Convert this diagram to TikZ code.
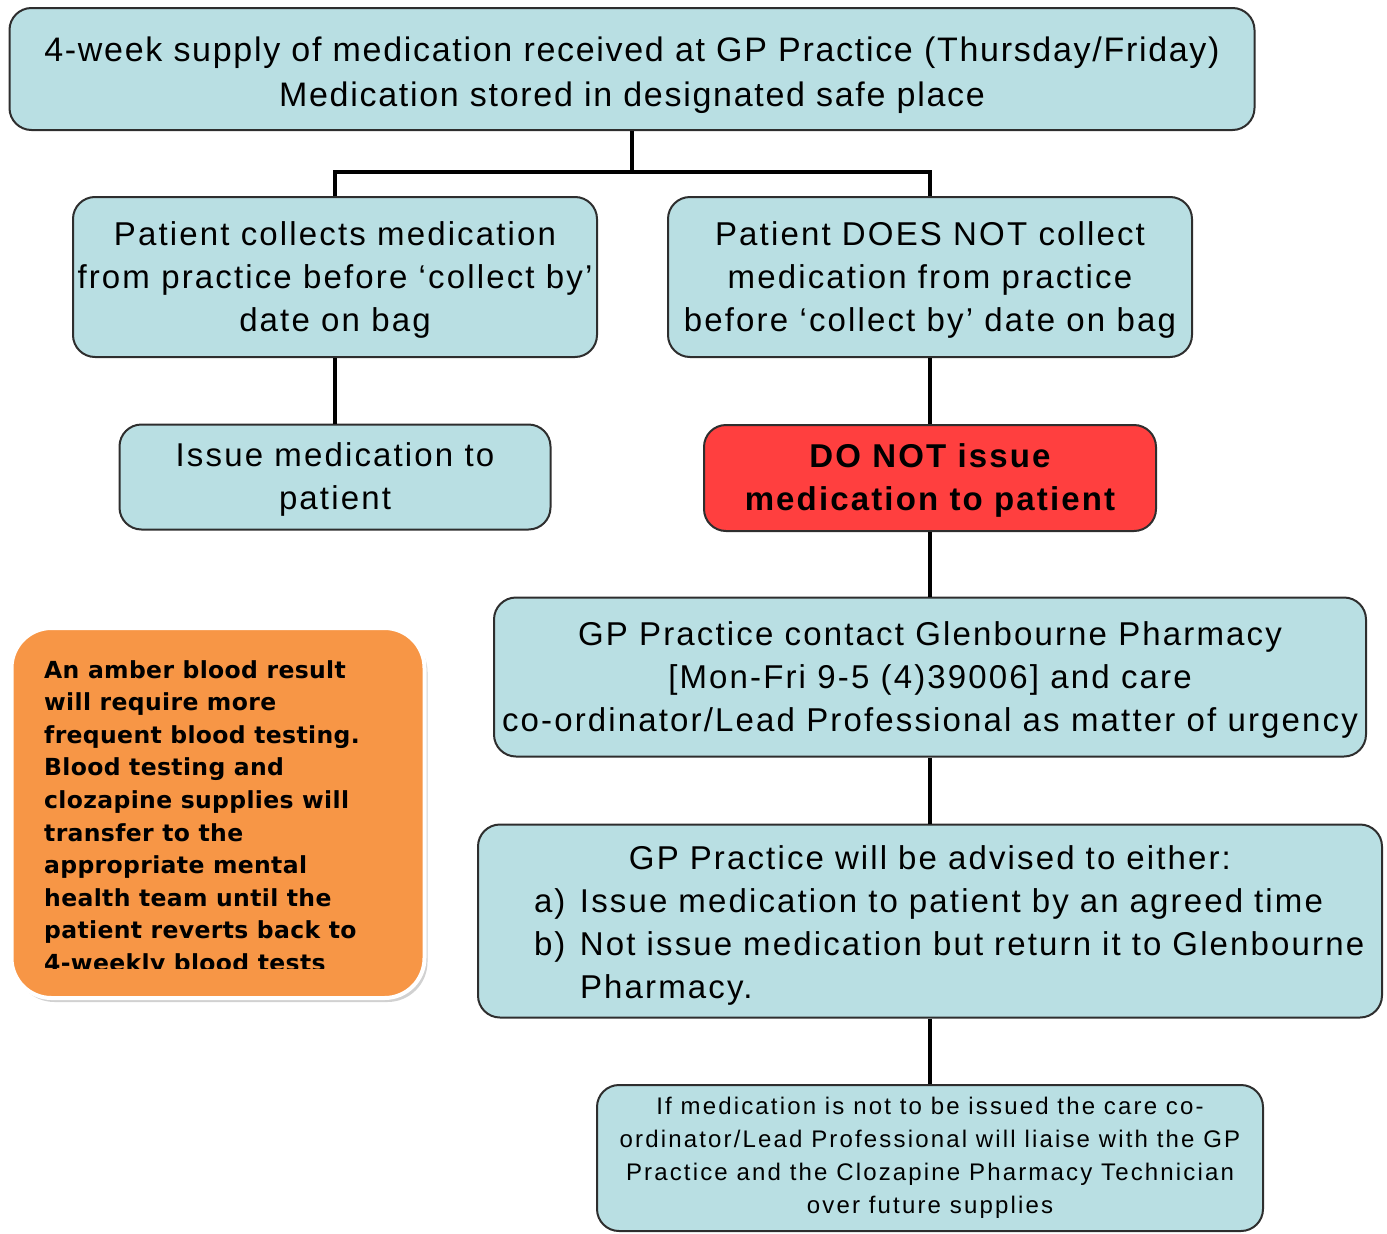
\documentclass[tikz,border=0pt]{standalone}
\usepackage{fontspec}
\setmainfont{Liberation Sans}
\newfontfamily\topfont[LetterSpace=5]{Liberation Sans}
\newfontfamily\boxfont[LetterSpace=6.5]{Liberation Sans}
\newfontfamily\smallfont[LetterSpace=9]{Liberation Sans}
\newfontfamily\notefont[LetterSpace=1.5]{DejaVu Sans}
\usepackage{xcolor}
\usetikzlibrary{positioning}

\definecolor{boxblue}{HTML}{B9DFE3}
\definecolor{stopred}{HTML}{FF3F3F}
\definecolor{amber}{HTML}{F79646}
\definecolor{edgegray}{HTML}{2E2E2E}

\newcommand{\bigtext}{\topfont\fontsize{34}{45}\selectfont}
\newcommand{\midtext}{\boxfont\fontsize{33}{43}\selectfont}
\newcommand{\smalltext}{\smallfont\fontsize{24}{33}\selectfont}
\newcommand{\lift}{\rule{0pt}{0.9em}}

\tikzset{
  flowbox/.style={draw=edgegray, line width=2pt, fill=boxblue, rounded corners=22pt, align=center, inner sep=0pt},
  link/.style={draw=black, line width=4pt}
}

\begin{document}
\begin{tikzpicture}[x=1pt, y=-1pt]
  \useasboundingbox (0,0) rectangle (1387,1234);
  \node[flowbox, minimum width=1245pt, minimum height=122pt, font=\bigtext] (top) at (632,69) {\rule{0pt}{1.1em}4-week supply of medication received at GP Practice (Thursday/Friday)\\Medication stored in designated safe place};
  \node[flowbox, minimum width=524pt, minimum height=160pt, font=\midtext] (collects) at (335,277) {\lift Patient collects medication\\from practice before ‘collect by’\\date on bag};
  \node[flowbox, minimum width=524pt, minimum height=160pt, font=\midtext] (notcollect) at (930,277) {\lift Patient DOES NOT collect\\medication from practice\\before ‘collect by’ date on bag};
  \node[flowbox, minimum width=431pt, minimum height=105pt, font=\midtext] (issue) at (335,477) {\lift Issue medication to\\patient};
  \node[flowbox, fill=stopred, minimum width=452pt, minimum height=106pt, font=\midtext\bfseries] (donot) at (930,478) {\lift DO NOT issue\\medication to patient};
  \node[flowbox, minimum width=872pt, minimum height=159pt, font=\midtext] (contact) at (930,677) {\lift GP Practice contact Glenbourne Pharmacy\\{}[Mon-Fri 9-5 (4)39006] and care\\co-ordinator/Lead Professional as matter of urgency};
  \node[flowbox, minimum width=904pt, minimum height=193pt, text width=884pt, align=left, font=\midtext] (advised) at (930,921) {{\centering\rule{0pt}{1em}GP Practice will be advised to either:\par}
    \hspace*{46pt}\makebox[46pt][l]{a)}Issue medication to patient by an agreed time\par
    \hspace*{46pt}\makebox[46pt][l]{b)}Not issue medication but return it to Glenbourne\par
    \hspace*{92pt}Pharmacy.};
  \node[flowbox, minimum width=666pt, minimum height=146pt, font=\smalltext] (liaise) at (930,1158) {If medication is not to be issued the care co-\\ordinator/Lead Professional will liaise with the GP\\Practice and the Clozapine Pharmacy Technician\\over future supplies};

  % amber note, text cut off at the bottom
  \node[draw=white, line width=4pt, fill=amber, rounded corners=40pt, minimum width=413pt, minimum height=370pt,
        preaction={fill=black!18, transform canvas={xshift=3pt, yshift=-4pt}}] (note) at (218,813) {};
  \begin{scope}
    \clip (20,640) rectangle (420,968);
    \node[anchor=north west, align=left, inner sep=0pt, font=\notefont\fontsize{23.5}{32.6}\selectfont\bfseries] (notetext) at (44,660) {An amber blood result\\will require more\\frequent blood testing.\\Blood testing and\\clozapine supplies will\\transfer to the\\appropriate mental\\health team until the\\patient reverts back to\\4-weekly blood tests};
  \end{scope}

  \coordinate (split) at (632,172);
  \draw[link] (top.south) -- (split) -| (collects.north);
  \draw[link] (split) -| (notcollect.north);
  \draw[link] (collects) -- (issue);
  \draw[link] (notcollect) -- (donot);
  \draw[link] (donot) -- (contact);
  \draw[link] (contact) -- (advised);
  \draw[link] (advised) -- (liaise);
\end{tikzpicture}
\end{document}
